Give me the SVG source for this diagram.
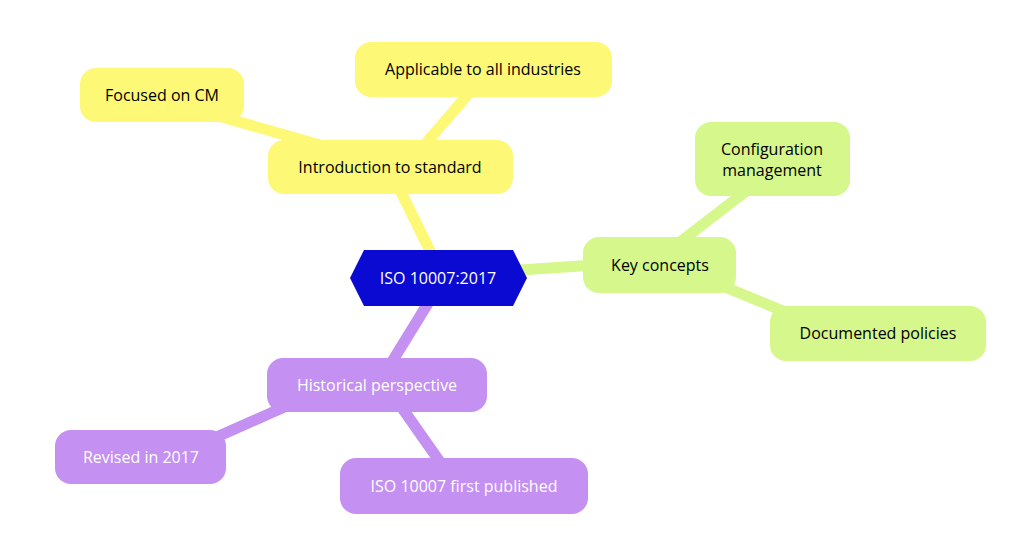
<svg xmlns="http://www.w3.org/2000/svg" width="1024" height="543" viewBox="0 0 1024 543">
<style>
text{font-family:"Open Sans","Noto Sans",sans-serif;font-size:16px;text-anchor:middle;dominant-baseline:central}
.y rect{fill:#fdf876}.g rect{fill:#d5f78c}.p rect{fill:#c490f2}
.p text,.c text{fill:#fff}
#connectors line{stroke-linecap:round;stroke-width:11}
</style>
<rect width="1024" height="543" fill="#fff"/>
<g id="connectors">
<line x1="432" y1="255" x2="400" y2="190" stroke="#fdf876"/>
<line x1="420" y1="150" x2="470" y2="92" stroke="#fdf876"/>
<line x1="320" y1="145" x2="215" y2="115" stroke="#fdf876"/>
<line x1="520" y1="270" x2="595" y2="265" stroke="#d5f78c"/>
<line x1="680" y1="242" x2="745" y2="192" stroke="#d5f78c"/>
<line x1="720" y1="285" x2="800" y2="318" stroke="#d5f78c"/>
<line x1="430" y1="300" x2="390" y2="365" stroke="#c490f2"/>
<line x1="300" y1="400" x2="210" y2="440" stroke="#c490f2"/>
<line x1="400" y1="405" x2="440" y2="462" stroke="#c490f2"/>
</g>
<g id="center" class="c"><polygon points="364,250 513,250 527,278 513,306 364,306 350,278" fill="#0a0ad2"/><text x="438" y="278">ISO 10007:2017</text></g>
<g id="intro" class="y"><rect x="268" y="140" width="245" height="54" rx="16"/><text x="390" y="167">Introduction to standard</text></g>
<g id="applicable" class="y"><rect x="355" y="42" width="257" height="55" rx="16"/><text x="483" y="69">Applicable to all industries</text></g>
<g id="focused" class="y"><rect x="80" y="68" width="164" height="54" rx="16"/><text x="162" y="95">Focused on CM</text></g>
<g id="key" class="g"><rect x="583" y="237" width="153" height="56" rx="16"/><text x="660" y="265">Key concepts</text></g>
<g id="config" class="g"><rect x="695" y="122" width="155" height="74" rx="16"/><text x="772" y="149">Configuration</text><text x="772" y="170">management</text></g>
<g id="documented" class="g"><rect x="770" y="306" width="216" height="55" rx="16"/><text x="878" y="333">Documented policies</text></g>
<g id="historical" class="p"><rect x="267" y="358" width="220" height="54" rx="16"/><text x="377" y="385">Historical perspective</text></g>
<g id="revised" class="p"><rect x="55" y="430" width="171" height="54" rx="16"/><text x="141" y="457">Revised in 2017</text></g>
<g id="first" class="p"><rect x="340" y="458" width="248" height="56" rx="16"/><text x="464" y="486">ISO 10007 first published</text></g>
</svg>
